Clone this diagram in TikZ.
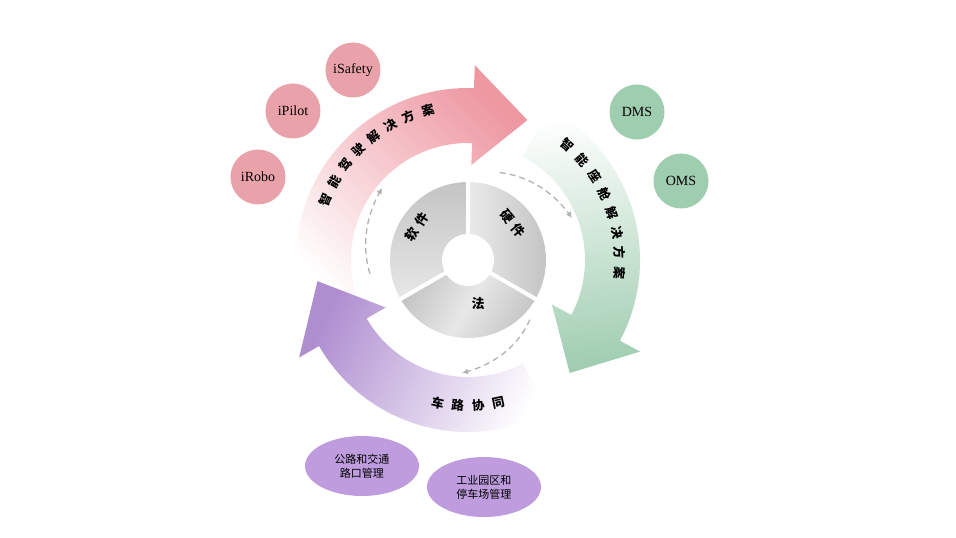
\documentclass[tikz,border=0pt]{standalone}
\usepackage{fontspec}
\setmainfont{Liberation Serif}
\newfontfamily\cjk{Noto Sans CJK SC}
\usetikzlibrary{shapes.geometric,arrows.meta}
\definecolor{pinkc}{HTML}{EE98A2}
\definecolor{pinkd}{HTML}{E9A2AA}
\definecolor{greenc}{HTML}{9FCDB0}
\definecolor{purplec}{HTML}{AF8ED0}
\definecolor{purpled}{HTML}{BE9CDD}
\definecolor{grayc}{HTML}{C4C4C4}
\tikzset{
  sat/.style={circle,fill=#1,minimum size=55pt,inner sep=0pt,font=\fontsize{14}{16}\selectfont},
  ell/.style={ellipse,fill=purpled,minimum width=114pt,minimum height=60pt,inner sep=0pt,align=center,font=\cjk\fontsize{11}{14}\selectfont},
  arctxt/.style={font=\cjk\bfseries\fontsize{12.5}{12.5}\selectfont,inner sep=0pt},
  pietxt/.style={font=\cjk\bfseries\fontsize{13}{13}\selectfont,inner sep=0pt},
  dash arrow/.style={gray!60,line width=1.3pt,dash pattern=on 6pt off 4pt,-{Latex[length=6pt,width=6pt]}},
  gap/.style={white,line width=4pt}
}
\newcommand{\ringarrow}[4]{% tail angle, base angle, tip angle, options
  \shade[#4] (#1:172) arc[start angle=#1,end angle=#2,radius=172] -- (#2:195) -- (#3:152) -- (#2:95) -- (#2:117) arc[start angle=#2,end angle=#1,radius=117] -- cycle;}
\begin{document}
\begin{tikzpicture}[x=1pt,y=1pt]
\useasboundingbox (-468,-278) rectangle (488,260);
% ring arrows
\ringarrow{200}{88}{67}{shading=axis,top color=pinkc,middle color=pinkc,bottom color=white,shading angle=-44}
\ringarrow{62}{-28}{-48}{shading=axis,top color=greenc,middle color=greenc!80,bottom color=white,shading angle=-173}
\ringarrow{-62}{-150}{-172}{shading=axis,top color=purplec,middle color=purplec!60,bottom color=white,shading angle=64}
% pie
\shade[top color=grayc,bottom color=grayc!40] (0,0) -- (90:78) arc[start angle=90,end angle=210,radius=78] -- cycle;
\shade[left color=grayc!35,right color=grayc] (0,0) -- (90:78) arc[start angle=90,end angle=-30,radius=78] -- cycle;
\shade[shading=axis,top color=grayc,bottom color=grayc,middle color=grayc!40,shading angle=60] (0,0) -- (-30:78) arc[start angle=-30,end angle=-150,radius=78] -- cycle;
\draw[gap] (0,0) -- (90:80);
\draw[gap] (0,0) -- (-30:80);
\draw[gap] (0,0) -- (210:80);
\node[circle,fill=white,minimum size=52pt,inner sep=0pt] (hole) at (0,0) {};
\node[pietxt,rotate=57] (s1) at (147:61) {软\hspace{5pt}件};
\node[pietxt,rotate=-51] (s2) at (39:58) {硬\hspace{5pt}件};
\node[pietxt] (s3) at (-77:45) {法};
% dashed arrows
\draw[dash arrow] plot[domain=188:140,samples=30,smooth] (\x:{99+(188-\x)/48*13});
\draw[dash arrow] plot[domain=70:22,samples=30,smooth] (\x:{93+(70-\x)/48*19});
\draw[dash arrow] plot[domain=-44:-93,samples=30,smooth] (\x:{86+(-44-\x)/49*27});
% arc labels
\foreach \c [count=\i] in {智,能,驾,驶,解,决,方,案}
  \node[arctxt,rotate={157-(\i-1)*52/7-90}] at ({157-(\i-1)*52/7}:155) {\c};
\foreach \c [count=\i] in {智,能,座,舱,解,决,方,案}
  \node[arctxt,rotate={49-(\i-1)*54/7-90}] at ({49-(\i-1)*54/7}:152) {\c};
\foreach \c [count=\i] in {车,路,协,同}
  \node[arctxt,rotate={-102+(\i-1)*8+90}] at ({-102+(\i-1)*8}:146) {\c};
% satellites
\node[sat=pinkd] (isafety) at (-115,190) {iSafety};
\node[sat=pinkd] (ipilot) at (-175,149) {iPilot};
\node[sat=pinkd] (irobo) at (-210,83) {iRobo};
\node[sat=greenc] (dms) at (169,148) {DMS};
\node[sat=greenc] (oms) at (213,79) {OMS};
\node[ell] (e1) at (-106,-206) {公路和交通\\路口管理};
\node[ell] (e2) at (16,-227) {工业园区和\\停车场管理};
\end{tikzpicture}
\end{document}
